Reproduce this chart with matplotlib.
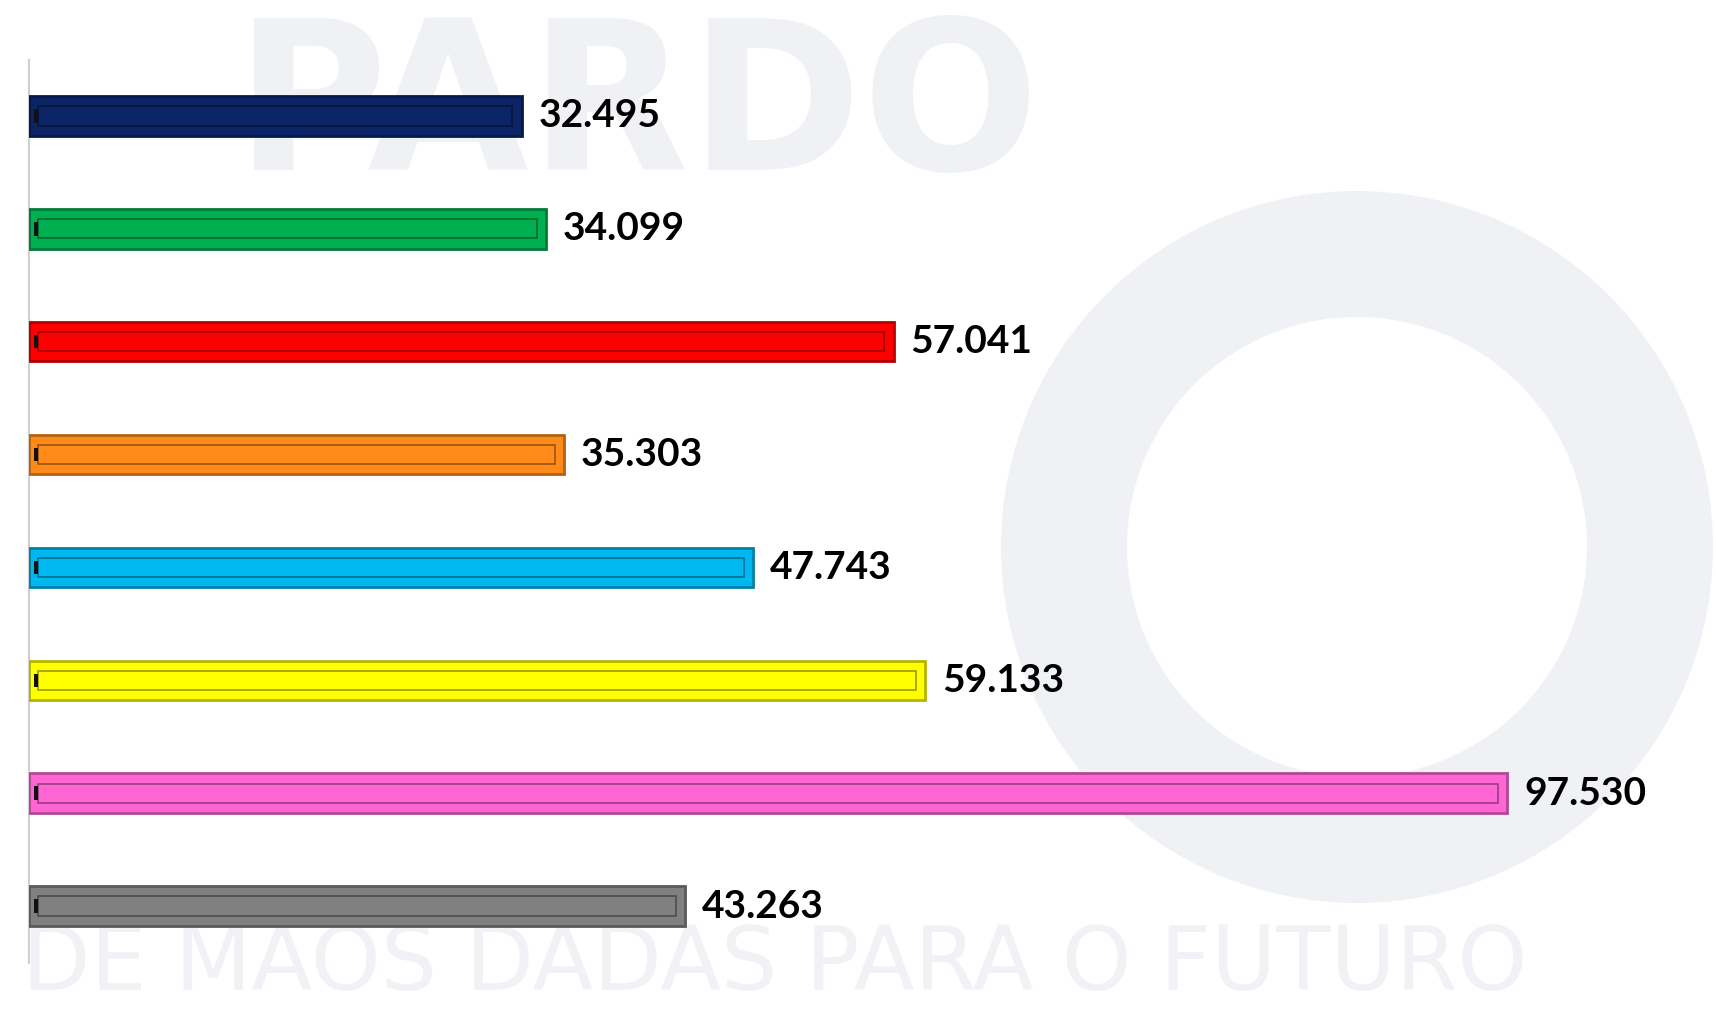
import matplotlib.pyplot as plt
from matplotlib.colors import to_rgb
from matplotlib.patches import Wedge

values = [32.495, 34.099, 57.041, 35.303, 47.743, 59.133, 97.530, 43.263]
labels = ["32.495", "34.099", "57.041", "35.303", "47.743", "59.133", "97.530", "43.263"]
colors = ["#0b2466", "#00b050", "#ff0000", "#ff8c1a", "#00b8f0", "#ffff00", "#ff66d4", "#808080"]

W, H = 1716, 1009
fig = plt.figure(figsize=(W / 100, H / 100), dpi=100)
fig.patch.set_facecolor("white")

# faint watermark in a background axes (pixel coords, y down)
bg = fig.add_axes([0, 0, 1, 1], zorder=-1)
bg.set_xlim(0, W)
bg.set_ylim(H, 0)
bg.axis("off")
wm = "#f0f1f4"
bg.add_patch(Wedge((1357, 547), 356, 0, 360, width=126, color=wm, lw=0))
bg.text(1040, 170, "PARDO", fontsize=150, fontweight="bold", color=wm,
        family="DejaVu Sans", ha="right", va="baseline")
bg.text(22, 990, "DE MÃOS DADAS PARA O FUTURO", fontsize=64, color="#f1f2f5",
        family="DejaVu Sans", ha="left", va="baseline")

ax = fig.add_axes([29 / W, 1 - 962.5 / H, 1 - 29 / W, (962.5 - 59.5) / H], zorder=1)
ax.patch.set_alpha(0)
ypos = list(range(len(values)))


def shade(c, f):
    r, g, b = to_rgb(c)
    return (r * f, g * f, b * f)


ax.barh(ypos, values, height=0.35, color=colors,
        edgecolor=[shade(c, 0.7) for c in colors], linewidth=2, zorder=3)
# bevel inner outline
ax.barh(ypos, [v - 1.2 for v in values], left=0.6, height=0.17, color="none",
        edgecolor=[shade(c, 0.6) for c in colors], linewidth=1.2, zorder=4)
ax.barh(ypos, [0.25] * len(values), left=0.35, height=0.12, color="#111111", zorder=5)

for y, v, t in zip(ypos, values, labels):
    ax.text(v + 1.1, y, t, va="center", ha="left", fontsize=28, fontweight="bold",
            family="Lato", color="black", zorder=6)

ax.set_xlim(0, 111.3)
ax.set_ylim(len(values) - 0.5, -0.5)
for s in ["top", "right", "bottom"]:
    ax.spines[s].set_visible(False)
ax.spines["left"].set_color("#d0d0d0")
ax.spines["left"].set_linewidth(1.5)
ax.set_xticks([])
ax.set_yticks([])

fig.savefig("out.png", dpi=100)
